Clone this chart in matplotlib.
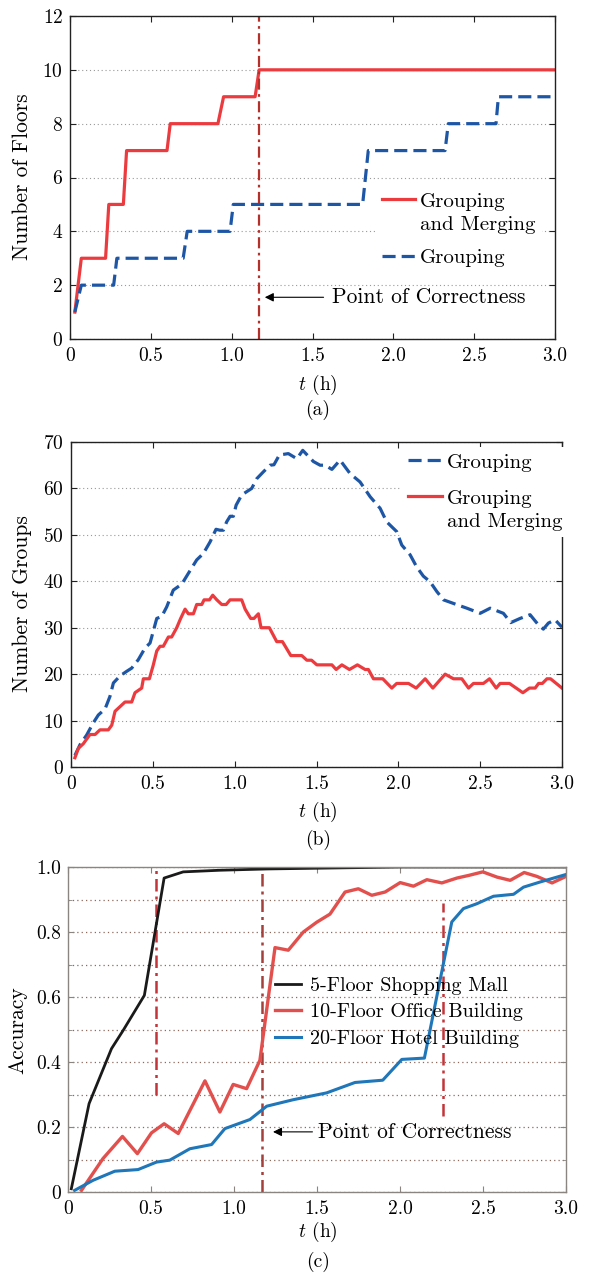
import matplotlib
matplotlib.use('Agg')
import matplotlib.pyplot as plt
from matplotlib.legend_handler import HandlerLine2D

plt.rcParams['font.family'] = 'serif'
plt.rcParams['font.serif'] = ['cmr10']
plt.rcParams['mathtext.fontset'] = 'cm'
plt.rcParams['axes.formatter.use_mathtext'] = True
plt.rcParams['font.size'] = 14

# ---- panel (a): number of floors ----
A_MERGE_T = [0.03, 0.07, 0.22, 0.24, 0.33, 0.35, 0.60, 0.62, 0.915, 0.95, 1.145, 1.17, 3.0]
A_MERGE_Y = [1, 3, 3, 5, 5, 7, 7, 8, 8, 9, 9, 10, 10]
A_GROUP_T = [0.03, 0.07, 0.27, 0.29, 0.70, 0.725, 0.99, 1.01, 1.81, 1.845, 2.32, 2.34, 2.635, 2.65, 3.0]
A_GROUP_Y = [1, 2, 2, 3, 3, 4, 4, 5, 5, 7, 7, 8, 8, 9, 9]
A_CORRECT_T = 1.17

# ---- panel (b): number of groups ----
B_MERGE_T = [0.024, 0.045, 0.075, 0.116, 0.147, 0.177, 0.228, 0.249, 0.269, 0.330,
             0.371, 0.391, 0.432, 0.442, 0.479, 0.503, 0.524, 0.544, 0.564, 0.595,
             0.615, 0.646, 0.670, 0.697, 0.717, 0.748, 0.768, 0.799, 0.813, 0.846,
             0.866, 0.891, 0.921, 0.948, 0.972, 1.043, 1.064, 1.098, 1.118, 1.145,
             1.161, 1.212, 1.257, 1.292, 1.343, 1.410, 1.441, 1.470, 1.502, 1.594,
             1.620, 1.655, 1.701, 1.750, 1.797, 1.817, 1.848, 1.905, 1.960, 1.990,
             2.062, 2.109, 2.164, 2.211, 2.286, 2.337, 2.388, 2.429, 2.459, 2.520,
             2.557, 2.598, 2.622, 2.679, 2.720, 2.761, 2.801, 2.836, 2.857, 2.880,
             2.908, 2.930, 2.965, 3.0]
B_MERGE_Y = [2, 4, 5, 7, 7, 8, 8, 9, 12, 14,
             14, 16, 17, 19, 19, 22, 25, 26, 26, 28,
             28, 30, 32, 34, 33, 33, 35, 35, 36, 36,
             37, 36, 35, 35, 36, 36, 34, 32, 32, 33,
             30, 30, 27, 27, 24, 24, 23, 23, 22, 22,
             21, 22, 21, 22, 21, 21, 19, 19, 17, 18,
             18, 17, 19, 17, 20, 19, 19, 17, 18, 18,
             19, 17, 18, 18, 17, 16, 17, 17, 18, 18,
             19, 19, 18, 17]
B_GROUP_T = [0.024, 0.055, 0.096, 0.136, 0.167, 0.208, 0.238, 0.259, 0.299, 0.340,
             0.371, 0.411, 0.452, 0.483, 0.524, 0.554, 0.585, 0.625, 0.677, 0.717,
             0.768, 0.809, 0.850, 0.886, 0.910, 0.931, 0.951, 0.972, 0.992, 1.009,
             1.043, 1.104, 1.135, 1.176, 1.216, 1.240, 1.273, 1.328, 1.380, 1.416,
             1.481, 1.522, 1.553, 1.594, 1.644, 1.705, 1.766, 1.828, 1.889, 1.929,
             1.990, 2.021, 2.072, 2.112, 2.153, 2.194, 2.235, 2.276, 2.347, 2.419,
             2.500, 2.561, 2.642, 2.687, 2.744, 2.805, 2.856, 2.886, 2.917, 2.958,
             3.0]
B_GROUP_Y = [2.5, 4.8, 6.9, 9.5, 11.2, 12.5, 15.2, 18.1, 19.6, 20.6,
             21.3, 23.1, 25.6, 26.7, 32.0, 32.4, 34.5, 38.1, 39.4, 41.7,
             44.6, 46.0, 48.5, 51.2, 51.0, 51.0, 52.8, 54.0, 54.0, 56.4,
             58.6, 60.0, 62.1, 63.6, 65.0, 65.1, 67.2, 67.5, 66.4, 68.2,
             65.8, 65.0, 65.0, 64.1, 66.1, 63.2, 61.4, 58.2, 55.7, 52.8,
             50.7, 47.8, 45.7, 43.1, 41.1, 39.9, 37.8, 36.0, 35.1, 34.2,
             33.1, 34.2, 33.1, 31.1, 32.0, 32.8, 30.6, 29.7, 31.0, 31.7,
             30.1]

# ---- panel (c): accuracy ----
C_MALL_T = [0.02, 0.127, 0.262, 0.332, 0.46, 0.579, 0.694, 0.914, 1.2, 1.6, 2.0, 3.0]
C_MALL_Y = [0.01, 0.272, 0.441, 0.497, 0.605, 0.966, 0.985, 0.99, 0.994, 0.997, 1.0, 1.0]
C_OFFICE_T = [0.081, 0.211, 0.328, 0.418, 0.503, 0.579, 0.664, 0.825, 0.915, 0.995,
              1.076, 1.156, 1.247, 1.327, 1.418, 1.498, 1.578, 1.669, 1.749, 1.830,
              1.910, 2.001, 2.081, 2.162, 2.252, 2.343, 2.413, 2.499, 2.584, 2.664,
              2.748, 2.825, 2.916, 3.0]
C_OFFICE_Y = [0.005, 0.103, 0.171, 0.118, 0.182, 0.210, 0.180, 0.342, 0.246, 0.331,
              0.318, 0.405, 0.752, 0.744, 0.80, 0.83, 0.855, 0.923, 0.933, 0.913,
              0.923, 0.952, 0.941, 0.961, 0.951, 0.966, 0.974, 0.985, 0.969, 0.959,
              0.983, 0.971, 0.951, 0.971]
C_HOTEL_T = [0.040, 0.151, 0.282, 0.422, 0.533, 0.613, 0.734, 0.865, 0.945, 1.096,
             1.197, 1.357, 1.558, 1.729, 1.896, 2.011, 2.147, 2.312, 2.382, 2.463,
             2.563, 2.684, 2.744, 2.845, 3.0]
C_HOTEL_Y = [0.005, 0.036, 0.064, 0.069, 0.092, 0.098, 0.133, 0.146, 0.195, 0.223,
             0.264, 0.284, 0.305, 0.337, 0.344, 0.408, 0.412, 0.831, 0.872, 0.887,
             0.910, 0.916, 0.938, 0.954, 0.977]
# vertical markers: (t, y from, y to)
C_CORRECT = [(0.53, 0.30, 1.0), (1.166, 0.0, 1.0), (2.258, 0.235, 0.89)]

X_TICKS = [0, 0.5, 1.0, 1.5, 2.0, 2.5, 3.0]
X_TICK_LABELS = ['0', '0.5', '1.0', '1.5', '2.0', '2.5', '3.0']
C_Y_TICKS = [0, 0.2, 0.4, 0.6, 0.8, 1.0]
C_Y_TICK_LABELS = ['0', '0.2', '0.4', '0.6', '0.8', '1.0']

RED = '#ec3b3f'
BLUE = '#1e56a6'
C_RED = '#e2504d'
C_BLUE = '#1f76b8'
C_BLACK = '#1a1a1a'
DASHDOT = (0, (5, 2, 1.2, 2))
DASHED = (0, (4.1, 1.9))

LABEL_SIZE = 15.5
LEGEND_SIZE = 15
NOTE_SIZE = 15.5
W, H = 589, 1275


class FirstLineHandler(HandlerLine2D):
    # put the handle next to the first line of a two-line label
    def create_artists(self, legend, orig_handle, xdescent, ydescent, width, height, fontsize, trans):
        return super().create_artists(legend, orig_handle, xdescent, ydescent - 1.35 * fontsize,
                                      width, height, fontsize, trans)


def fig_rect(left, top, right, bottom):
    return [left / W, 1 - bottom / H, (right - left) / W, (bottom - top) / H]


def px_text(fig, x, y, s, **kw):
    fig.text(x / W, 1 - y / H, s, ha='center', va='center', **kw)


def style_axes(ax, spine_color):
    for s in ax.spines.values():
        s.set_color(spine_color)
        s.set_linewidth(1.0)
    ax.tick_params(direction='in', top=True, right=True, length=4, width=0.8,
                   color=spine_color, pad=6)
    ax.tick_params(axis='y', pad=5)
    ax.set_xlim(0, 3)
    ax.set_xticks(X_TICKS)
    ax.set_xticklabels(X_TICK_LABELS)


def two_line_legend(ax, handles, anchor, spacing, first_multi):
    leg = ax.legend(handles=handles, loc='upper left', bbox_to_anchor=anchor,
                    frameon=True, framealpha=1, edgecolor='none', fancybox=False,
                    fontsize=LEGEND_SIZE, handlelength=1.6, handletextpad=0.25,
                    labelspacing=spacing, borderpad=0.3, borderaxespad=0,
                    handler_map={first_multi: FirstLineHandler()})
    for txt in leg.get_texts():
        txt.set_linespacing(1.3)
    return leg


def main():
    fig = plt.figure(figsize=(W / 100, H / 100), dpi=100)

    # (a)
    ax = fig.add_axes(fig_rect(70, 16, 555, 339))
    style_axes(ax, '#222222')
    ax.set_ylim(0, 12)
    ax.set_yticks(range(0, 13, 2))
    ax.yaxis.grid(True, linestyle=(0, (1, 2.5)), color='#999999', linewidth=0.8)
    ax.set_axisbelow(True)
    l_merge, = ax.plot(A_MERGE_T, A_MERGE_Y, color=RED, lw=2.3, label='Grouping\nand Merging')
    l_group, = ax.plot(A_GROUP_T, A_GROUP_Y, color=BLUE, lw=2.3, linestyle=DASHED, label='Grouping')
    ax.axvline(A_CORRECT_T, color='#b3302b', lw=1.6, linestyle=DASHDOT)
    ax.annotate('Point of Correctness', xy=(1.205, 1.55), xytext=(1.62, 1.55),
                va='center', ha='left', fontsize=NOTE_SIZE,
                arrowprops=dict(arrowstyle='-|>', color='black', lw=0.8,
                                mutation_scale=13, shrinkA=4, shrinkB=0))
    two_line_legend(ax, [l_merge, l_group], (0.63, 0.47), 0.7, l_merge)
    px_text(fig, 22, 177, 'Number of Floors', rotation=90, fontsize=LABEL_SIZE)
    px_text(fig, 318, 385, r'$t$ (h)')
    px_text(fig, 318, 410, '(a)')

    # (b)
    ax = fig.add_axes(fig_rect(71, 442, 562, 767))
    style_axes(ax, '#222222')
    ax.set_ylim(0, 70)
    ax.set_yticks(range(0, 71, 10))
    ax.yaxis.grid(True, linestyle=(0, (1, 2.5)), color='#999999', linewidth=0.8)
    ax.set_axisbelow(True)
    g_group, = ax.plot(B_GROUP_T, B_GROUP_Y, color=BLUE, lw=2.3, linestyle=DASHED, label='Grouping')
    g_merge, = ax.plot(B_MERGE_T, B_MERGE_Y, color=RED, lw=2.3, label='Grouping\nand Merging')
    two_line_legend(ax, [g_group, g_merge], (0.674, 0.985), 0.9, g_merge)
    px_text(fig, 22, 604, 'Number of Groups', rotation=90, fontsize=LABEL_SIZE)
    px_text(fig, 318, 812, r'$t$ (h)')
    px_text(fig, 318, 840, '(b)')

    # (c)
    ax = fig.add_axes(fig_rect(68, 867, 566, 1192))
    style_axes(ax, '#8a8580')
    ax.set_ylim(0, 1.0)
    ax.set_yticks(C_Y_TICKS)
    ax.set_yticklabels(C_Y_TICK_LABELS)
    ax.set_yticks([0.1, 0.3, 0.5, 0.7, 0.9], minor=True)
    ax.tick_params(axis='y', which='minor', direction='in', right=True, length=3, color='#8a8580')
    ax.yaxis.grid(True, which='both', linestyle=(0, (1, 2.5)), color='#8c6a5e', linewidth=0.9)
    ax.set_axisbelow(True)
    for t, y0, y1 in C_CORRECT:
        ax.plot([t, t], [y0, y1], color='#c2343a' if t != 1.166 else '#a3403c',
                lw=1.8, linestyle=DASHDOT)
    ax.plot(C_MALL_T, C_MALL_Y, color=C_BLACK, lw=2.0, label='5-Floor Shopping Mall')
    ax.plot(C_OFFICE_T, C_OFFICE_Y, color=C_RED, lw=2.4, label='10-Floor Office Building')
    ax.plot(C_HOTEL_T, C_HOTEL_Y, color=C_BLUE, lw=2.2, label='20-Floor Hotel Building')
    ax.annotate('Point of Correctness', xy=(1.235, 0.185), xytext=(1.506, 0.185),
                va='center', ha='left', fontsize=NOTE_SIZE,
                arrowprops=dict(arrowstyle='-|>', color='black', lw=0.8,
                                mutation_scale=13, shrinkA=2, shrinkB=0))
    ax.legend(loc='upper left', bbox_to_anchor=(0.416, 0.663), frameon=False,
              fontsize=14.5, handlelength=1.3, handletextpad=0.45, labelspacing=0.43,
              borderpad=0, borderaxespad=0)
    px_text(fig, 18, 1030, 'Accuracy', rotation=90, fontsize=LABEL_SIZE)
    px_text(fig, 318, 1232, r'$t$ (h)')
    px_text(fig, 318, 1262, '(c)')

    fig.savefig('out.png', dpi=100)


if __name__ == '__main__':
    main()
